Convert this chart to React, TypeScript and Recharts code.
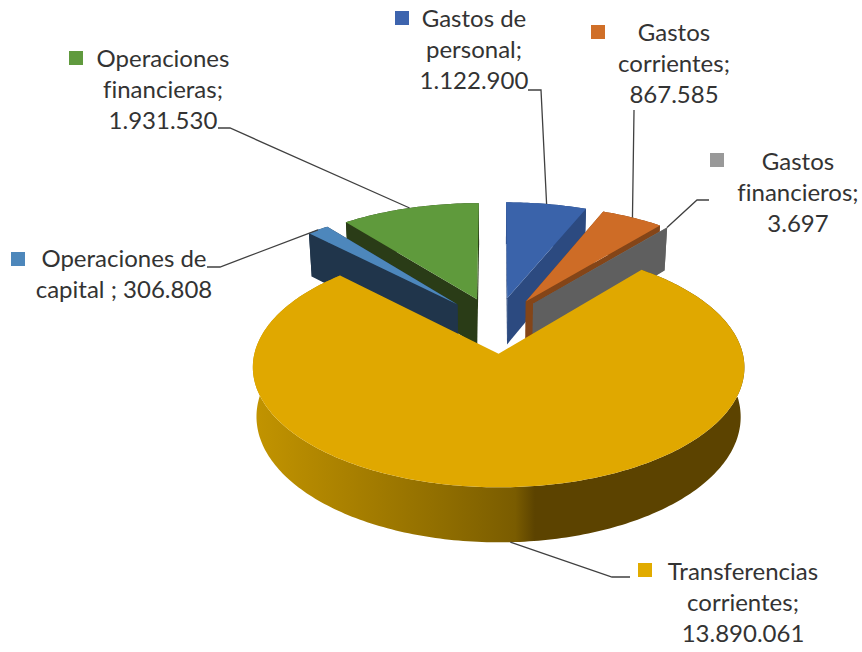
import { Pie, PieChart } from "recharts"

const categories = [
    "Gastos de personal",
    "Gastos corrientes",
    "Gastos financieros",
    "Transferencias corrientes",
    "Operaciones de capital",
    "Operaciones financieras",
]
const values = [1122900, 867585, 3697, 13890061, 306808, 1931530]
const labelLines = [
    ["Gastos de", "personal;", "1.122.900"],
    ["Gastos", "corrientes;", "867.585"],
    ["Gastos", "financieros;", "3.697"],
    ["Transferencias", "corrientes;", "13.890.061"],
    ["Operaciones de", "capital ; 306.808"],
    ["Operaciones", "financieras;", "1.931.530"],
]
const topColors = ["#3A63AA", "#CE6C26", "#A5A5A5", "#E0A800", "#4D87BC", "#5F9A3C"]
const wallColors = ["#2C4A80", "#844518", "#5F5F5F", "url(#transferWall)", "#20354B", "#2A3C17"]
const markerColors = ["#3D64AE", "#D06F28", "#999999", "#E1AB00", "#4D87BB", "#609A3E"]

// text centre, first baseline, marker corner and the elbow of the leader
const labelPlaces = [
    { x: 474, y: 27, mx: 395, my: 11, from: [528, 90], elbow: [541, 90] },
    { x: 674, y: 41, mx: 591, my: 25, from: [634, 110], elbow: [634, 111] },
    { x: 798, y: 170, mx: 710, my: 153, from: [709, 200], elbow: [697, 200] },
    { x: 743, y: 580, mx: 638, my: 563, from: [630, 577], elbow: [612, 577] },
    { x: 124, y: 267, mx: 11, my: 252, from: [207, 267], elbow: [220, 267] },
    { x: 163, y: 67, mx: 69, my: 51, from: [218, 128], elbow: [230, 128] },
]

const clockwiseData = categories.map((name, i) => ({ name, value: values[i] }))
const counterData = [...clockwiseData].reverse()

const firstLayer = categories.slice(0, 3)

const PIE_X = 496
const PIE_Y = 325
const RADIUS = 237.5
const FLATTEN = 112 / 237.5
const PERSPECTIVE = 0.11
const EXPLODE = 0.25
const DEPTH = 47.5
const rad = Math.PI / 180

// plane point (radius = 1) to screen, with a bit of perspective like the excel 3d pie
function project(x: number, y: number, low = false) {
    const w = 1 + PERSPECTIVE * y
    let sx = (RADIUS * x) / w
    let sy = (-RADIUS * FLATTEN * y) / w
    if (low) {
        sx = sx * 0.985
        sy = sy + DEPTH / w
    }
    return [PIE_X + sx, PIE_Y + sy]
}

function rimPoint(angle: number, offX: number, offY: number, low = false) {
    return project(offX + Math.cos(angle * rad), offY + Math.sin(angle * rad), low)
}

function toPath(points: number[][]) {
    return "M" + points.map((p) => p[0].toFixed(2) + "," + p[1].toFixed(2)).join("L") + "Z"
}

function Slice(props: any, layer: string[]) {
    if (!layer.includes(props.name)) return <g />
    const { startAngle, endAngle, name } = props
    const idx = categories.indexOf(name)
    const mid = ((startAngle + endAngle) / 2) * rad
    const offX = EXPLODE * Math.cos(mid)
    const offY = EXPLODE * Math.sin(mid)

    const n = Math.max(1, Math.ceil(Math.abs(endAngle - startAngle)))
    const angles: number[] = []
    for (let i = 0; i <= n; i++) angles.push(startAngle + ((endAngle - startAngle) * i) / n)

    const upper = angles.map((a) => rimPoint(a, offX, offY))
    const lower = angles.map((a) => rimPoint(a, offX, offY, true))
    const tip = project(offX, offY)
    const tipLow = project(offX, offY, true)
    const wall = wallColors[idx]
    const flatWall = idx === 3 ? "none" : wall

    return (
        <g>
            {idx === 3 && (
                <defs>
                    <linearGradient id="transferWall" gradientUnits="userSpaceOnUse" x1={254} x2={745} y1={0} y2={0}>
                        <stop offset="0" stopColor="#C29400" />
                        <stop offset="0.185" stopColor="#AA8100" />
                        <stop offset="0.389" stopColor="#8F6D00" />
                        <stop offset="0.532" stopColor="#7A5C00" />
                        <stop offset="0.572" stopColor="#5C4300" />
                        <stop offset="1" stopColor="#5C4300" />
                    </linearGradient>
                </defs>
            )}
            <path d={toPath([...upper, ...[...lower].reverse()])} fill={wall} />
            <path d={toPath([tip, upper[0], lower[0], tipLow])} fill={flatWall} />
            <path d={toPath([tip, upper[n], lower[n], tipLow])} fill={flatWall} />
            <path d={toPath([tip, ...upper])} fill={topColors[idx]} />
        </g>
    )
}

function SliceLabel(props: any, layer: string[]) {
    if (!layer.includes(props.name)) return <g />
    const idx = categories.indexOf(props.name)
    const place = labelPlaces[idx]
    const mid = props.midAngle
    const offX = EXPLODE * Math.cos(mid * rad)
    const offY = EXPLODE * Math.sin(mid * rad)
    // the big slice is hooked on the bottom of its wall
    const end = rimPoint(mid, offX, offY, idx === 3)
    const leader = [place.from, place.elbow, end].map((p) => p.join(",")).join(" ")
    return (
        <g>
            <polyline points={leader} fill="none" stroke="#404040" strokeWidth={1.3} />
            <rect x={place.mx} y={place.my} width={14} height={14} fill={markerColors[idx]} />
            {labelLines[idx].map((line, i) => (
                <text
                    key={line}
                    x={place.x}
                    y={place.y + i * 31}
                    textAnchor="middle"
                    fontFamily="Lato, sans-serif"
                    fontSize={24}
                    fill="#333333"
                    style={{ fontVariantLigatures: "none" }}
                >
                    {line}
                </text>
            ))}
        </g>
    )
}

export default function App() {
    const secondLayer = categories.filter((c) => !firstLayer.includes(c))
    return (
        <div style={{ position: "absolute", left: 0, top: 0, width: 862, height: 652, background: "#fff" }}>
            <PieChart width={862} height={652} margin={{ top: 0, right: 0, bottom: 0, left: 0 }}>
                <Pie
                    data={clockwiseData}
                    dataKey="value"
                    nameKey="name"
                    cx={PIE_X}
                    cy={PIE_Y}
                    outerRadius={RADIUS}
                    startAngle={90}
                    endAngle={-270}
                    isAnimationActive={false}
                    labelLine={false}
                    label={(p: any) => SliceLabel(p, firstLayer)}
                    shape={(p: any) => Slice(p, firstLayer)}
                />
                <Pie
                    data={counterData}
                    dataKey="value"
                    nameKey="name"
                    cx={PIE_X}
                    cy={PIE_Y}
                    outerRadius={RADIUS}
                    startAngle={90}
                    endAngle={450}
                    isAnimationActive={false}
                    labelLine={false}
                    label={(p: any) => SliceLabel(p, secondLayer)}
                    shape={(p: any) => Slice(p, secondLayer)}
                />
            </PieChart>
        </div>
    )
}
